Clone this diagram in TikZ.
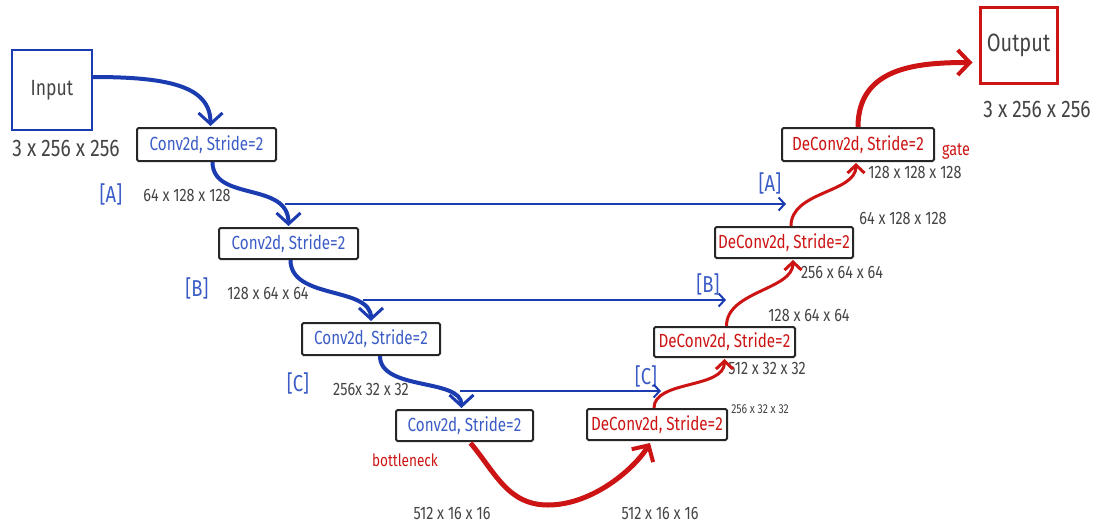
\documentclass[tikz,border=0pt]{standalone}
\usepackage{fontspec}
\setmainfont{Fira Sans}[FakeStretch=0.8]
\usetikzlibrary{arrows.meta}
\definecolor{dblue}{HTML}{1A3CB0}
\definecolor{tblue}{HTML}{3B5CC6}
\definecolor{dred}{HTML}{CC1414}
\definecolor{tgray}{HTML}{444444}
\tikzset{
  box/.style={draw=black!85, line width=2pt, rounded corners=1.5pt, inner sep=0pt, font=\fontsize{19}{19}\selectfont},
  encbox/.style={box, text=tblue},
  decbox/.style={box, text=dred},
  dim/.style={text=tgray, inner sep=0pt, font=\fontsize{18}{18}\selectfont},
  bigdim/.style={text=tgray, inner sep=0pt, font=\fontsize{24}{24}\selectfont},
  tag/.style={text=tblue, inner sep=0pt, font=\fontsize{23}{23}\selectfont},
  bigblue/.style={draw=dblue, line width=4pt, -{Straight Barb[length=11pt,width=24pt,line width=3pt]}},
  skip/.style={draw=dblue, line width=2pt, -{Straight Barb[length=6pt,width=13pt,line width=2pt]}},
  bigred/.style={draw=dred, line width=5pt, -{Straight Barb[length=12pt,width=25pt,line width=4pt]}},
  smallred/.style={draw=dred, line width=3pt, -{Straight Barb[length=8pt,width=17pt,line width=3pt]}},
}
\begin{document}
\begin{tikzpicture}[x=1pt,y=-1pt]
\useasboundingbox (0,0) rectangle (1100,527);
% end boxes
\node[draw=dblue, line width=2pt, minimum width=80pt, minimum height=80pt, inner sep=0pt, font=\fontsize{22}{22}\selectfont, text=tgray] (in) at (52,90) {Input};
\node[draw=dred, line width=3pt, minimum width=77pt, minimum height=75pt, inner sep=0pt, font=\fontsize{25}{25}\selectfont, text=tgray] (out) at (1018.5,45.5) {Output};
\node[bigdim] (indim) at (66,148) {3 x 256 x 256};
\node[bigdim] (outdim) at (1037,109) {3 x 256 x 256};
% encoder
\node[encbox, minimum width=139pt, minimum height=33pt] (c1) at (206.5,144.5) {Conv2d, Stride=2};
\node[encbox, minimum width=139pt, minimum height=31pt] (c2) at (288.5,243.5) {Conv2d, Stride=2};
\node[encbox, minimum width=138pt, minimum height=32pt] (c3) at (371,339) {Conv2d, Stride=2};
\node[encbox, minimum width=137pt, minimum height=31pt] (c4) at (464.5,425.5) {Conv2d, Stride=2};
% decoder
\node[decbox, minimum width=140pt, minimum height=31pt] (d1) at (657,424.5) {DeConv2d, Stride=2};
\node[decbox, minimum width=141pt, minimum height=30pt] (d2) at (724.5,342) {DeConv2d, Stride=2};
\node[decbox, minimum width=138pt, minimum height=31pt] (d3) at (784,242.5) {DeConv2d, Stride=2};
\node[decbox, minimum width=152pt, minimum height=33pt] (d4) at (858,144.5) {DeConv2d, Stride=2};
% labels
\node[tag] (la1) at (111,194) {[A]};
\node[dim] (da1) at (187,195) {64 x 128 x 128};
\node[tag] (lb1) at (197,288) {[B]};
\node[dim] (db1) at (268,293) {128 x 64 x 64};
\node[tag] (lc1) at (298,383) {[C]};
\node[dim] (dc1) at (371,389) {256x 32 x 32};
\node[text=dred, inner sep=0pt, font=\fontsize{17}{17}\selectfont] (bn) at (405,460) {bottleneck};
\node[dim] (bd1) at (452,513) {512 x 16 x 16};
\node[dim] (bd2) at (660,513) {512 x 16 x 16};
\node[text=tgray, inner sep=0pt, font=\fontsize{13}{13}\selectfont] (dd1) at (760,409) {256 x 32 x 32};
\node[dim] (dd2) at (767,368) {512 x 32 x 32};
\node[dim] (dd3) at (809,315) {128 x 64 x 64};
\node[dim] (dd4) at (842,272) {256 x 64 x 64};
\node[dim] (dd5) at (903,218) {64 x 128 x 128};
\node[dim] (dd6) at (915,172) {128 x 128 x 128};
\node[text=dred, inner sep=0pt, font=\fontsize{18}{18}\selectfont] (gate) at (956,152) {gate};
\node[tag] (la2) at (770,183) {[A]};
\node[tag] (lb2) at (708,284) {[B]};
\node[tag] (lc2) at (646,376) {[C]};
% skip coordinates
\coordinate (sa) at (285,204);
\coordinate (ea) at (786,204);
\coordinate (sb) at (363,300);
\coordinate (eb) at (726,300);
\coordinate (sc) at (460,391);
\coordinate (ec) at (661,391);
\coordinate (bot) at (548,505);
% encoder arrows
\draw[bigblue] ([yshift=13pt]in.east) .. controls +(75,0) and +(0,-40) .. ([xshift=4pt,yshift=1pt]c1.north);
\draw[bigblue] ([xshift=6pt]c1.south) .. controls +(0,40) and +(0,-45) .. ([yshift=1pt]c2.north);
\draw[bigblue] ([xshift=2pt]c2.south) .. controls +(0,40) and +(0,-35) .. ([yshift=1pt]c3.north);
\draw[bigblue] ([xshift=9pt]c3.south) .. controls +(0,35) and +(0,-30) .. ([xshift=-3pt,yshift=1pt]c4.north);
% skips
\draw[skip] (sa) -- (ea);
\draw[skip] (sb) -- (eb);
\draw[skip] (sc) -- (ec);
% decoder arrows
\draw[bigred] ([xshift=6pt,yshift=-1pt]c4.south) .. controls +(25,30) and +(-40,0) .. (bot) .. controls +(45,0) and +(-15,25) .. ([xshift=-7pt,yshift=-2pt]d1.south);
\draw[smallred] ([xshift=-3pt]d1.north) .. controls +(0,-28) and +(0,30) .. ([yshift=-1pt]d2.south);
\draw[smallred] ([xshift=2pt]d2.north) .. controls +(0,-35) and +(0,30) .. ([xshift=9pt,yshift=-1pt]d3.south);
\draw[smallred] ([xshift=7pt]d3.north) .. controls +(0,-35) and +(0,30) .. ([xshift=-2pt,yshift=-1pt]d4.south);
\draw[bigred] (d4.north) .. controls +(0,-60) and +(-55,0) .. ([xshift=-6pt,yshift=-17pt]out.west);
\end{tikzpicture}
\end{document}
